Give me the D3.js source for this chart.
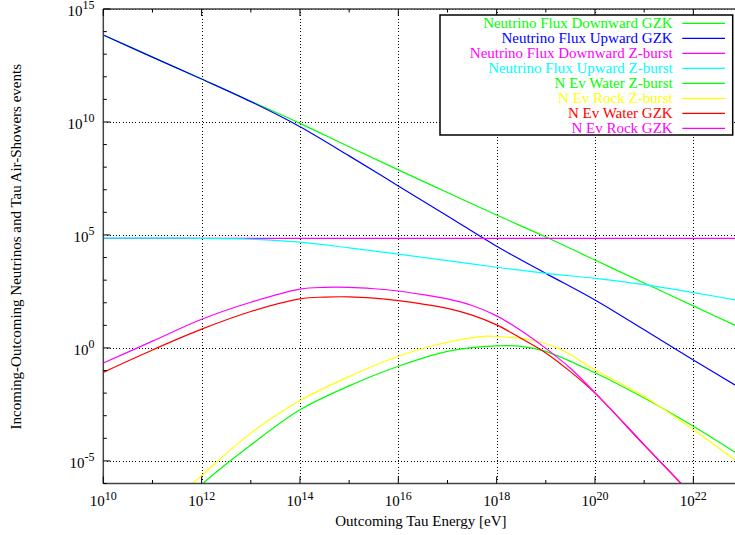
<!DOCTYPE html>
<html>
<head>
<meta charset="utf-8">
<script src="https://cdn.jsdelivr.net/npm/d3@7"></script>
<style>
  html, body { margin: 0; padding: 0; background: #fff; }
  svg { display: block; }
  text { font-family: "Liberation Serif", "Times New Roman", "DejaVu Serif", serif; }
</style>
</head>
<body>
<div id="chart"></div>
<script>
// ---- Data (exponents of 10) ----
// energy exponents (log10 E[eV]) and value exponents (log10 N)
const fluxDownGZK_E = [10, 11, 12, 13, 14, 15, 16, 17, 18, 19, 20, 21, 22, 23];
const fluxDownGZK_V = [13.85, 12.87, 11.9, 10.92, 9.94, 8.9, 7.88, 6.88, 5.88, 4.91, 3.89, 2.87, 1.86, 0.85];

const fluxUpGZK_E = [10, 11, 12, 13, 14, 15, 16, 17, 18, 19, 20, 21, 22, 23];
const fluxUpGZK_V = [13.85, 12.87, 11.9, 10.9, 9.79, 8.5, 7.17, 5.84, 4.5, 3.3, 2.12, 0.8, -0.53, -1.84];

const fluxDownZ_E = [10, 13, 16, 19, 23];
const fluxDownZ_V = [4.85, 4.85, 4.85, 4.85, 4.85];

const fluxUpZ_E = [10, 11, 12, 13, 14, 15, 16, 17, 18, 19, 20, 21, 22, 23];
const fluxUpZ_V = [4.86, 4.86, 4.85, 4.81, 4.68, 4.43, 4.15, 3.86, 3.57, 3.3, 3.08, 2.8, 2.45, 2.07];

const evWaterZ_E = [11.9, 12.03, 13, 14, 15, 16, 17, 18, 18.5, 19, 20, 21, 22, 23];
const evWaterZ_V = [-6.3, -6.0, -4.3, -2.74, -1.68, -0.81, -0.15, 0.09, 0.07, -0.15, -1.1, -2.22, -3.47, -4.83];

const evRockZ_E = [11.7, 11.82, 12, 13, 14, 15, 16, 17, 17.8, 18, 18.7, 19.29, 20, 21, 22, 23];
const evRockZ_V = [-6.25, -6.0, -5.64, -3.77, -2.33, -1.27, -0.37, 0.25, 0.52, 0.51, 0.35, -0.05, -0.97, -2.15, -3.62, -5.2];

const evWaterGZK_E = [10, 11, 12, 13, 14, 14.5, 15, 15.5, 16, 16.5, 17, 17.5, 18, 18.5, 19, 19.5, 20, 21, 21.75, 22];
const evWaterGZK_V = [-1.08, -0.09, 0.83, 1.61, 2.17, 2.25, 2.26, 2.2, 2.09, 1.94, 1.75, 1.45, 1.02, 0.42, -0.22, -1.05, -2.0, -4.3, -6.0, -6.6];

const evRockGZK_E = [10, 11, 12, 13, 14, 14.5, 15, 15.5, 16, 16.5, 17, 17.5, 18, 18.5, 19, 19.5, 20, 21, 21.75, 22];
const evRockGZK_V = [-0.67, 0.3, 1.27, 2.02, 2.6, 2.68, 2.68, 2.62, 2.52, 2.36, 2.17, 1.88, 1.42, 0.76, -0.02, -0.9, -1.98, -4.28, -6.0, -6.6];

const seriesNames = [
  "Neutrino Flux Downward GZK",
  "Neutrino Flux Upward GZK",
  "Neutrino Flux Downward Z-burst",
  "Neutrino Flux Upward Z-burst",
  "N Ev Water Z-burst",
  "N Ev Rock Z-burst",
  "N Ev Water GZK",
  "N Ev Rock GZK"
];
const seriesColors = ["#00ff00", "#0000ff", "#ff00ff", "#00ffff", "#00ff00", "#ffff00", "#ff0000", "#ff00ff"];
const seriesE = [fluxDownGZK_E, fluxUpGZK_E, fluxDownZ_E, fluxUpZ_E, evWaterZ_E, evRockZ_E, evWaterGZK_E, evRockGZK_E];
const seriesV = [fluxDownGZK_V, fluxUpGZK_V, fluxDownZ_V, fluxUpZ_V, evWaterZ_V, evRockZ_V, evWaterGZK_V, evRockGZK_V];

const xMajorExp = [10, 12, 14, 16, 18, 20, 22];
const xMinorExp = [11, 13, 15, 17, 19, 21, 23];
const yMajorExp = [15, 10, 5, 0, -5];
const yMinorExp = [14, 13, 12, 11, 9, 8, 7, 6, 4, 3, 2, 1, -1, -2, -3, -4, -6];

const xTitle = "Outcoming Tau Energy [eV]";
const yTitle = "Incoming-Outcoming Neutrinos and Tau Air-Showers events";

// ---- Layout ----
const W = 735, H = 535;
const L = 103.3, R = 742.5, T = 9, B = 483.5;
const FONT = '"Liberation Serif", "Times New Roman", serif';

const x = d3.scaleLog().domain([1e10, 1e23]).range([L, R]);
const y = d3.scaleLog().domain([1e-6, 1e15]).range([B, T]);

const svg = d3.select("#chart").append("svg")
  .attr("width", W).attr("height", H)
  .attr("viewBox", `0 0 ${W} ${H}`);

svg.append("defs").append("clipPath").attr("id", "plotclip")
  .append("rect").attr("x", L).attr("y", T).attr("width", R - L).attr("height", B - T);

// grid
const grid = svg.append("g").attr("stroke", "#000").attr("stroke-width", 1)
  .attr("stroke-dasharray", "1,2.2").attr("shape-rendering", "crispEdges");
xMajorExp.forEach(e => {
  grid.append("line").attr("x1", Math.round(x(10 ** e)) + 0.5).attr("x2", Math.round(x(10 ** e)) + 0.5)
    .attr("y1", T).attr("y2", B);
});
yMajorExp.forEach(e => {
  grid.append("line").attr("y1", Math.round(y(10 ** e)) + 0.5).attr("y2", Math.round(y(10 ** e)) + 0.5)
    .attr("x1", L).attr("x2", R);
});

// curves
const line = d3.line()
  .x(d => x(10 ** d[0]))
  .y(d => y(10 ** d[1]))
  .curve(d3.curveCatmullRom.alpha(0.5));

const curves = svg.append("g").attr("clip-path", "url(#plotclip)");
seriesNames.forEach((name, i) => {
  const pts = seriesE[i].map((e, j) => [e, seriesV[i][j]]);
  curves.append("path")
    .attr("d", line(pts))
    .attr("fill", "none")
    .attr("stroke", seriesColors[i])
    .attr("stroke-width", 1.2);
});

// border
const border = svg.append("g").attr("stroke", "#444").attr("fill", "none");
border.append("line").attr("x1", L).attr("x2", L).attr("y1", T).attr("y2", B).attr("stroke-width", 1.5);
border.append("line").attr("x1", L).attr("x2", R).attr("y1", B).attr("y2", B).attr("stroke-width", 1.5);
border.append("line").attr("x1", L).attr("x2", R).attr("y1", T).attr("y2", T).attr("stroke-width", 1.5);

// ticks
const ticks = svg.append("g").attr("stroke", "#000").attr("stroke-width", 1);
xMajorExp.forEach(e => {
  const px = x(10 ** e);
  ticks.append("line").attr("x1", px).attr("x2", px).attr("y1", B).attr("y2", B - 7);
  ticks.append("line").attr("x1", px).attr("x2", px).attr("y1", T).attr("y2", T + 7);
});
xMinorExp.forEach(e => {
  const px = x(10 ** e);
  ticks.append("line").attr("x1", px).attr("x2", px).attr("y1", B).attr("y2", B - 3.5);
  ticks.append("line").attr("x1", px).attr("x2", px).attr("y1", T).attr("y2", T + 3.5);
});
yMajorExp.forEach(e => {
  const py = y(10 ** e);
  ticks.append("line").attr("x1", L).attr("x2", L + 7).attr("y1", py).attr("y2", py);
});
yMinorExp.forEach(e => {
  const py = y(10 ** e);
  ticks.append("line").attr("x1", L).attr("x2", L + 3.5).attr("y1", py).attr("y2", py);
});

// tick labels
function powLabel(g, e, px, py, anchor) {
  const t = g.append("text").attr("x", px).attr("y", py)
    .attr("text-anchor", anchor).attr("font-size", 15).attr("font-family", FONT).attr("fill", "#000");
  t.append("tspan").text("10");
  t.append("tspan").attr("dy", -6.5).attr("font-size", 12).text(String(e));
}
const labels = svg.append("g");
xMajorExp.forEach(e => powLabel(labels, e, x(10 ** e), 506, "middle"));
yMajorExp.forEach(e => powLabel(labels, e, 94.5, y(10 ** e) + 6.7, "end"));

// axis titles
svg.append("text").attr("x", (L + R) / 2 - 2).attr("y", 526).attr("font-family", FONT)
  .attr("text-anchor", "middle").attr("font-size", 15).text(xTitle);
svg.append("text").attr("transform", "translate(21,246.7) rotate(-90)").attr("font-family", FONT)
  .attr("text-anchor", "middle").attr("font-size", 15).text(yTitle);

// legend
const leg = svg.append("g");
leg.append("rect").attr("x", 440).attr("y", 15).attr("width", 292.7).attr("height", 120)
  .attr("fill", "#fff").attr("stroke", "#000").attr("stroke-width", 1.5);
seriesNames.forEach((name, i) => {
  const cy = 23.3 + i * 15;
  leg.append("text").attr("x", 672.7).attr("y", cy + 5).attr("font-family", FONT)
    .attr("text-anchor", "end").attr("font-size", 15)
    .attr("fill", seriesColors[i]).text(name);
  leg.append("line").attr("x1", 682.3).attr("x2", 725).attr("y1", cy).attr("y2", cy)
    .attr("stroke", seriesColors[i]).attr("stroke-width", 1.2);
});
</script>
</body>
</html>
